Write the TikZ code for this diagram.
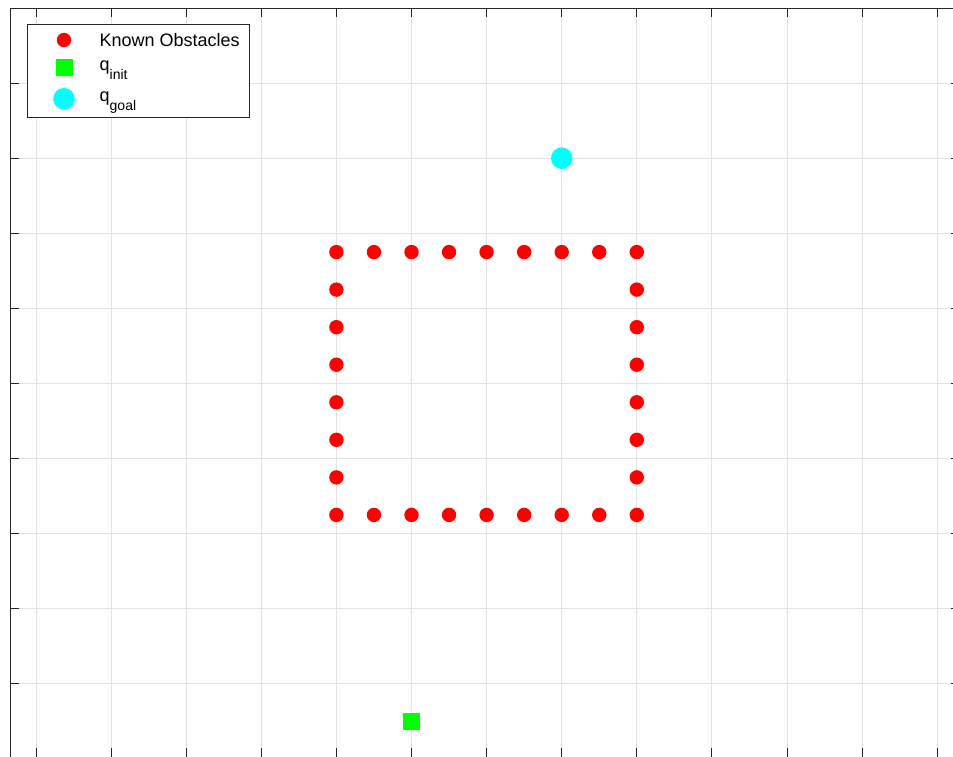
\documentclass[tikz,border=0pt]{standalone}
\usepackage{fontspec}
\setmainfont{Liberation Sans}
\usepackage{xcolor}
\usepackage{tikz}

\definecolor{axisgray}{HTML}{262626}
\definecolor{gridgray}{HTML}{E2E2E2}
\definecolor{obsred}{HTML}{FF0000}
\definecolor{initgreen}{HTML}{00FF00}
\definecolor{goalcyan}{HTML}{00FFFF}

\tikzset{
  obstacle/.style={circle,fill=obsred,inner sep=0pt,minimum size=14.4pt},
  initmark/.style={rectangle,fill=initgreen,inner sep=0pt,minimum size=17pt},
  goalmark/.style={circle,fill=goalcyan,inner sep=0pt,minimum size=21.6pt},
  legtext/.style={anchor=base west,inner sep=0pt,font=\fontsize{18}{21}\selectfont},
  gridline/.style={gridgray,line width=0.9pt},
  axisline/.style={axisgray,line width=0.9pt},
}
\newcommand{\subtxt}[1]{\raisebox{-9pt}{\fontsize{14}{14}\selectfont #1}}

\begin{document}
\begin{tikzpicture}[x=75.1pt,y=-75.1pt]
\useasboundingbox (-0.4794,-0.1065) rectangle (12.2104,9.9601);
\clip (-0.4794,-0.1065) rectangle (12.2104,9.9601);
\fill[white] (-0.4794,-0.1065) rectangle (12.2104,9.9601);
% grid
\foreach \i in {0,...,12}
  \draw[gridline] (\i,0) -- (\i,10.02);
\foreach \j in {1,...,9}
  \draw[gridline] (-0.346,\j) -- (12.36,\j);
% axes and ticks
\draw[axisline] (-0.346,0) rectangle (12.36,10.02);
\foreach \i in {0,...,12} {
  \draw[axisline] (\i,0) -- (\i,0.12);
  \draw[axisline] (\i,10.02) -- (\i,9.85);
}
\foreach \j in {1,...,9} {
  \draw[axisline] (-0.346,\j) -- (-0.226,\j);
  \draw[axisline] (12.36,\j) -- (12.19,\j);
}
% known obstacles
\foreach \x [count=\n] in {4,4.5,...,8} {
  \node[obstacle] (obsT\n) at (\x,3.25) {};
  \node[obstacle] (obsB\n) at (\x,6.75) {};
}
\foreach \y [count=\n] in {3.75,4.25,...,6.25} {
  \node[obstacle] (obsL\n) at (4,\y) {};
  \node[obstacle] (obsR\n) at (8,\y) {};
}
% start and goal
\node[initmark] (qinit) at (5,9.5) {};
\node[goalmark] (qgoal) at (7,2) {};
% legend
\draw[axisgray,fill=white,line width=0.7pt] (-0.1198,0.2130) rectangle (2.8362,1.4514);
\node[obstacle] (legobs) at (0.3728,0.4261) {};
\node[initmark] (leginit) at (0.3728,0.7989) {};
\node[goalmark] (leggoal) at (0.3728,1.2090) {};
\node[legtext] (txtobs) at (0.8455,0.506) {Known Obstacles};
\node[legtext] (txtinit) at (0.8455,0.832) {q\subtxt{init}};
\node[legtext] (txtgoal) at (0.8455,1.249) {q\subtxt{goal}};
\end{tikzpicture}
\end{document}
